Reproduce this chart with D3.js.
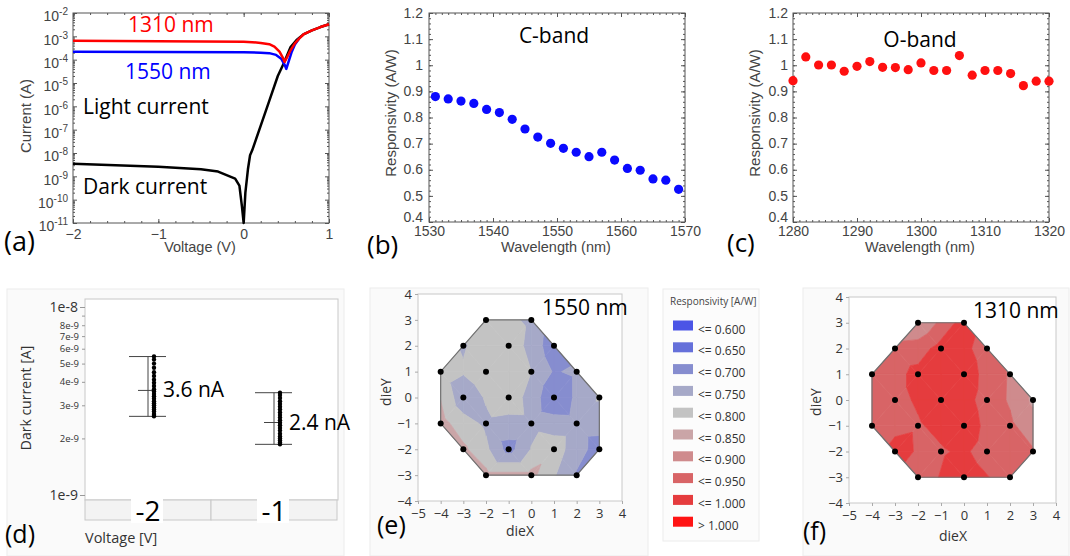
<!DOCTYPE html>
<html>
<head>
<meta charset="utf-8">
<script src="https://cdn.jsdelivr.net/npm/d3@7"></script>
<style>
  body { margin: 0; background: #fff; }
  svg { display: block; }
</style>
</head>
<body>
<div id="chart-area"></div>
<script>
// ---- data ----
// (a) I-V curves
var ivV1310 = [-2, -1, -0.5, 0, 0.1, 0.2, 0.3, 0.36, 0.42, 0.46, 0.48, 0.5, 0.54, 0.6, 0.65, 0.7, 0.8, 0.9, 1.0];
var ivI1310 = [6.4e-4, 6.2e-4, 6.0e-4, 5.8e-4, 5.6e-4, 5.2e-4, 4.6e-4, 3.6e-4, 2.2e-4, 1.2e-4, 8e-5, 1.1e-4, 2.2e-4, 5e-4, 8e-4, 1.2e-3, 1.8e-3, 2.5e-3, 3.3e-3];
var ivV1550 = [-2, -1, 0, 0.2, 0.3, 0.38, 0.44, 0.48, 0.5, 0.52, 0.56, 0.6, 0.65];
var ivI1550 = [2.2e-4, 2.15e-4, 2.1e-4, 2.0e-4, 1.9e-4, 1.6e-4, 1.1e-4, 6e-5, 4e-5, 7e-5, 2e-4, 4.5e-4, 8e-4];
var ivVdark = [-2, -1.5, -1, -0.5, -0.3, -0.1, -0.05, -0.02, 0, 0.02, 0.05, 0.075, 0.1, 0.2, 0.3, 0.4, 0.47, 0.55, 0.62, 0.7, 0.8, 0.9, 1.0];
var ivIdark = [3.5e-9, 3e-9, 2.6e-9, 2e-9, 1.6e-9, 8e-10, 4e-10, 5e-11, 1e-11, 2e-10, 2e-9, 8e-9, 1.3e-8, 1.5e-7, 1.7e-6, 2e-5, 7e-5, 3.5e-4, 7e-4, 1.2e-3, 1.8e-3, 2.5e-3, 3.3e-3];

// (b) C-band responsivity
var cbWave = [1531, 1533, 1535, 1537, 1539, 1541, 1543, 1545, 1547, 1549, 1551, 1553, 1555, 1557, 1559, 1561, 1563, 1565, 1567, 1569];
var cbResp = [0.88, 0.871, 0.863, 0.854, 0.831, 0.819, 0.793, 0.756, 0.725, 0.701, 0.682, 0.667, 0.650, 0.667, 0.637, 0.605, 0.598, 0.565, 0.56, 0.525];

// (c) O-band responsivity
var obWave = [1280, 1282, 1284, 1286, 1288, 1290, 1292, 1294, 1296, 1298, 1300, 1302, 1304, 1306, 1308, 1310, 1312, 1314, 1316, 1318, 1320];
var obResp = [0.941, 1.032, 1.001, 1.001, 0.977, 0.996, 1.014, 0.992, 0.991, 0.983, 1.009, 0.980, 0.980, 1.037, 0.962, 0.980, 0.980, 0.968, 0.922, 0.939, 0.939];

// (d) dark current distribution (nA)
var dcVolt = [-2, -1];
var dcMean = [3.6, 2.43];
var dcHi = [5.45, 3.5];
var dcLo = [2.62, 1.86];
var dcLabel = ["3.6 nA", "2.4 nA"];
var dcPtsM2 = [2.62, 2.66, 2.7, 2.78, 2.85, 2.92, 3.0, 3.08, 3.15, 3.25, 3.35, 3.45, 3.55, 3.65, 3.8, 3.95, 4.1, 4.3, 4.5, 4.75, 5.0, 5.25, 5.45];
var dcPtsM1 = [1.86, 1.9, 1.95, 2.0, 2.05, 2.12, 2.2, 2.27, 2.35, 2.42, 2.5, 2.58, 2.66, 2.75, 2.85, 2.95, 3.05, 3.15, 3.28, 3.4, 3.5];
var dcMajor = [1e-9, 1e-8];
var dcMinor = [2e-9, 3e-9, 4e-9, 5e-9, 6e-9, 7e-9, 8e-9, 9e-9];
var dcMinorLbl = ["2e-9", "3e-9", "4e-9", "5e-9", "6e-9", "7e-9", "8e-9", ""];

// (e)/(f) wafer maps
var dieX = [-2, 0, -3, -1, 1, -4, -2, 0, 2, -3, -1, 1, 3, -4, -2, 0, 2, -3, -1, 1, 3, -2, 0, 2];
var dieY = [3, 3, 2, 2, 2, 1, 1, 1, 1, 0, 0, 0, 0, -1, -1, -1, -1, -2, -2, -2, -2, -3, -3, -3];
var resp1550 = [0.78, 0.74, 0.745, 0.78, 0.665, 0.775, 0.785, 0.75, 0.71, 0.715, 0.78, 0.655, 0.755, 0.82, 0.74, 0.735, 0.72, 0.81, 0.68, 0.78, 0.68, 0.815, 0.815, 0.695];
var resp1310 = [0.85, 0.975, 0.92, 0.97, 0.925, 0.92, 0.965, 0.98, 0.895, 0.935, 0.98, 0.93, 0.84, 0.91, 0.945, 0.98, 0.91, 0.965, 0.945, 0.93, 0.905, 0.93, 0.975, 0.93];
var respBreaks = [0.6, 0.65, 0.7, 0.75, 0.8, 0.85, 0.9, 0.95, 1.0];
var respLabels = ["<= 0.600", "<= 0.650", "<= 0.700", "<= 0.750", "<= 0.800", "<= 0.850", "<= 0.900", "<= 0.950", "<= 1.000", "> 1.000"];
var respColors = ["#4b55e6", "#6570da", "#868dcf", "#a6a9c8", "#c3c3c3", "#caa5a7", "#cf8b8d", "#d86466", "#e53c3e", "#ff1414"];

var axFont = "'Liberation Sans', Arial, sans-serif";
var jmpFont = "'Open Sans', 'Noto Sans', sans-serif";

var svg = d3.select("#chart-area")
  .append("svg")
    .attr("width", 1070)
    .attr("height", 556);

// box with inside ticks on all four sides (panels a, b, c)
function boxAxes(g, x, y, o) {
  var x0 = x.range()[0], x1 = x.range()[1], y0 = y.range()[1], y1 = y.range()[0];
  g.append("g").attr("transform", "translate(0," + y1 + ")")
    .call(d3.axisBottom(x).tickValues(o.xMinor).tickSize(-2).tickFormat(""));
  g.append("g").attr("transform", "translate(0," + y0 + ")")
    .call(d3.axisTop(x).tickValues(o.xMinor).tickSize(-2).tickFormat(""));
  g.append("g").attr("transform", "translate(" + x0 + ",0)")
    .call(d3.axisLeft(y).tickValues(o.yMinor).tickSize(-2).tickFormat(""));
  g.append("g").attr("transform", "translate(" + x1 + ",0)")
    .call(d3.axisRight(y).tickValues(o.yMinor).tickSize(-2).tickFormat(""));
  g.append("g").attr("transform", "translate(0," + y0 + ")")
    .call(d3.axisTop(x).tickValues(o.xMajor).tickSize(-4).tickFormat(""));
  g.append("g").attr("transform", "translate(" + x1 + ",0)")
    .call(d3.axisRight(y).tickValues(o.yMajor).tickSize(-4).tickFormat(""));
  var bx = g.append("g").attr("transform", "translate(0," + y1 + ")")
    .call(d3.axisBottom(x).tickValues(o.xMajor).tickSize(-4).tickPadding(o.xPad).tickFormat(o.xFmt));
  var by = g.append("g").attr("transform", "translate(" + x0 + ",0)")
    .call(d3.axisLeft(y).tickValues(o.yMajor).tickSize(-4).tickPadding(o.yPad).tickFormat(o.yFmt));
  g.selectAll(".domain").remove();
  g.selectAll("g").attr("color", "#555");
  g.selectAll(".tick text").attr("font-family", axFont).attr("font-size", "14px").attr("fill", "#444");
  g.append("rect")
    .attr("x", x0).attr("y", y0)
    .attr("width", x1 - x0).attr("height", y1 - y0)
    .attr("fill", "none").attr("stroke", "#555");
  return { bx: bx, by: by };
}

function addText(g, x, y, txt, size, color, family, anchor) {
  return g.append("text")
    .attr("x", x).attr("y", y)
    .attr("font-family", family || jmpFont)
    .attr("font-size", size + "px")
    .attr("fill", color || "#000")
    .attr("text-anchor", anchor || "start")
    .text(txt);
}

function addRotText(g, x, y, txt, size, color, family) {
  return g.append("text")
    .attr("transform", "translate(" + x + "," + y + ") rotate(-90)")
    .attr("font-family", family)
    .attr("font-size", size + "px")
    .attr("fill", color)
    .attr("text-anchor", "middle")
    .attr("dominant-baseline", "central")
    .text(txt);
}

// ---------------- (a) ----------------
var xA = d3.scaleLinear().domain([-2, 1]).range([73, 329]);
var yA = d3.scaleLog().domain([1e-11, 1e-2]).range([223, 13]);
var gA = svg.append("g");
var decades = d3.range(-11, -1).map(function(e) { return Math.pow(10, e); });
var logMinor = [];
decades.slice(0, -1).forEach(function(d) { for (var k = 2; k < 10; k++) logMinor.push(d * k); });
var axA = boxAxes(gA, xA, yA, {
  xMajor: [-2, -1, 0, 1], xMinor: d3.range(-2, 1.01, 0.2),
  yMajor: decades, yMinor: logMinor,
  xFmt: d3.format("d"), yFmt: function() { return ""; }, xPad: 6, yPad: 5
});
axA.by.selectAll(".tick text").each(function(d) {
  var t = d3.select(this);
  t.text(null);
  t.append("tspan").text("10");
  t.append("tspan").attr("dy", "-0.6em").attr("font-size", "10px").text(Math.round(Math.log10(d)));
});
axA.by.selectAll(".tick text").attr("dy", "0.55em");

var lineA = d3.line().x(function(d) { return xA(d[0]); }).y(function(d) { return yA(d[1]); });
gA.append("path").datum(d3.zip(ivVdark, ivIdark)).attr("d", lineA)
  .attr("fill", "none").attr("stroke", "#000").attr("stroke-width", 2.5).attr("stroke-linejoin", "round");
gA.append("path").datum(d3.zip(ivV1550, ivI1550)).attr("d", lineA)
  .attr("fill", "none").attr("stroke", "#0000ff").attr("stroke-width", 2.5).attr("stroke-linejoin", "round");
gA.append("path").datum(d3.zip(ivV1310, ivI1310)).attr("d", lineA)
  .attr("fill", "none").attr("stroke", "#ff0000").attr("stroke-width", 2.5).attr("stroke-linejoin", "round");

addText(gA, 128, 32, "1310 nm", 21, "#ff0000");
addText(gA, 125, 79, "1550 nm", 21, "#0000ff");
addText(gA, 83, 114, "Light current", 21, "#000");
addText(gA, 83, 194, "Dark current", 21, "#000");
addText(gA, 200, 252, "Voltage (V)", 14.5, "#444", axFont, "middle");
addRotText(gA, 25, 116, "Current (A)", 15, "#444", axFont);
addText(gA, 4, 251, "(a)", 27, "#000");

// ---------------- (b) ----------------
var xB = d3.scaleLinear().domain([1530, 1570]).range([429, 685]);
var yB = d3.scaleLinear().domain([0.4, 1.2]).range([222, 13]);
var respFmt = function(d) { return Math.abs(d - 1) < 1e-9 ? "1" : d3.format(".1f")(d); };
// lowest y label sits a little higher so it clears the first x label
var respDy = function(d) { return d < 0.45 ? "-0.05em" : "0.3em"; };
var gB = svg.append("g");
var axB = boxAxes(gB, xB, yB, {
  xMajor: d3.range(1530, 1571, 10), xMinor: d3.range(1530, 1571, 1),
  yMajor: d3.range(0.4, 1.201, 0.1), yMinor: d3.range(0.4, 1.201, 0.02),
  xFmt: d3.format("d"), yFmt: respFmt, xPad: 4, yPad: 6
});
axB.by.selectAll(".tick text").attr("dy", respDy);
gB.selectAll(".dot").data(d3.zip(cbWave, cbResp)).enter().append("circle")
  .attr("cx", function(d) { return xB(d[0]); })
  .attr("cy", function(d) { return yB(d[1]); })
  .attr("r", 4.6)
  .attr("fill", "#0a0aff");
addText(gB, 554, 43, "C-band", 21, "#000", jmpFont, "middle");
addText(gB, 556, 252, "Wavelength (nm)", 14.5, "#444", axFont, "middle");
addRotText(gB, 390, 113, "Responsivity (A/W)", 15, "#444", axFont);
addText(gB, 367, 254, "(b)", 26, "#000");

// ---------------- (c) ----------------
var xC = d3.scaleLinear().domain([1280, 1320]).range([793, 1049]);
var yC = d3.scaleLinear().domain([0.4, 1.2]).range([222, 13]);
var gC = svg.append("g");
var axC = boxAxes(gC, xC, yC, {
  xMajor: d3.range(1280, 1321, 10), xMinor: d3.range(1280, 1321, 1),
  yMajor: d3.range(0.4, 1.201, 0.1), yMinor: d3.range(0.4, 1.201, 0.02),
  xFmt: d3.format("d"), yFmt: respFmt, xPad: 4, yPad: 5
});
axC.by.selectAll(".tick text").attr("dy", respDy);
gC.selectAll(".dot").data(d3.zip(obWave, obResp)).enter().append("circle")
  .attr("cx", function(d) { return xC(d[0]); })
  .attr("cy", function(d) { return yC(d[1]); })
  .attr("r", 4.6)
  .attr("fill", "#ff1010");
addText(gC, 920, 47, "O-band", 21, "#000", jmpFont, "middle");
addText(gC, 920, 252, "Wavelength (nm)", 14.5, "#444", axFont, "middle");
addRotText(gC, 754, 113, "Responsivity (A/W)", 15, "#444", axFont);
addText(gC, 727, 252, "(c)", 26, "#000");

// ---------------- (d) ----------------
var gD = svg.append("g");
gD.append("rect").attr("x", 7).attr("y", 289).attr("width", 337).attr("height", 267)
  .attr("fill", "#fafafa").attr("stroke", "#ececec");
var xD = d3.scaleBand().domain(dcVolt).range([85, 337]);
var yD = d3.scaleLog().domain([1e-9, 1e-8]).range([495, 307]);
gD.append("rect").attr("x", 85).attr("y", 299).attr("width", 253).attr("height", 201)
  .attr("fill", "#fff").attr("stroke", "#c8c8c8");
// category band under the plot
gD.selectAll(".cell").data(dcVolt).enter().append("rect")
  .attr("x", function(d) { return xD(d); }).attr("y", 500)
  .attr("width", xD.bandwidth()).attr("height", 20)
  .attr("fill", "#f3f3f3").attr("stroke", "#c8c8c8");
gD.selectAll(".cellbg").data(dcVolt).enter().append("rect")
  .attr("x", function(d) { return xD(d) + xD.bandwidth() / 2 - 17; }).attr("y", 499)
  .attr("width", 32).attr("height", 24).attr("fill", "#fff");
gD.selectAll(".cellLbl").data(dcVolt).enter().append("text")
  .attr("x", function(d) { return xD(d) + xD.bandwidth() / 2; })
  .attr("y", 521)
  .attr("text-anchor", "middle")
  .attr("font-family", jmpFont).attr("font-size", "28px").attr("fill", "#000")
  .text(function(d) { return d; });

// y axis
var dAxMaj = gD.append("g").attr("transform", "translate(85,0)")
  .call(d3.axisLeft(yD).tickValues(dcMajor).tickSize(5).tickPadding(2).tickFormat(function(d) { return d === 1e-8 ? "1e-8" : "1e-9"; }));
var dAxMin = gD.append("g").attr("transform", "translate(85,0)")
  .call(d3.axisLeft(yD).tickValues(dcMinor).tickSize(3).tickPadding(3).tickFormat(function(d, i) { return dcMinorLbl[i]; }));
gD.selectAll(".domain").remove();
gD.selectAll("g").attr("color", "#999");
dAxMaj.selectAll(".tick text").attr("font-family", jmpFont).attr("font-size", "14px").attr("fill", "#333");
dAxMin.selectAll(".tick text").attr("font-family", jmpFont).attr("font-size", "9.5px").attr("fill", "#333");

var dcPts = [dcPtsM2, dcPtsM1];
dcVolt.forEach(function(v, i) {
  var cx = xD(v) + xD.bandwidth() / 2;
  var gg = gD.append("g");
  gg.append("line").attr("x1", cx).attr("x2", cx).attr("y1", yD(dcHi[i] * 1e-9)).attr("y2", yD(dcLo[i] * 1e-9))
    .attr("stroke", "#444").attr("stroke-width", 1);
  [dcHi[i], dcLo[i]].forEach(function(c) {
    gg.append("line").attr("x1", cx - 19).attr("x2", cx + 18).attr("y1", yD(c * 1e-9)).attr("y2", yD(c * 1e-9))
      .attr("stroke", "#444").attr("stroke-width", 1);
  });
  gg.append("line").attr("x1", cx - 10).attr("x2", cx + 6).attr("y1", yD(dcMean[i] * 1e-9)).attr("y2", yD(dcMean[i] * 1e-9))
    .attr("stroke", "#444").attr("stroke-width", 1);
  gg.selectAll("circle").data(dcPts[i]).enter().append("circle")
    .attr("cx", cx + 6).attr("cy", function(d) { return yD(d * 1e-9); })
    .attr("r", 2.2).attr("fill", "#000");
  addText(gg, cx + 15, yD(dcMean[i] * 1e-9) + 7, dcLabel[i], 21, "#000");
});
addRotText(gD, 25, 398, "Dark current [A]", 14, "#333", jmpFont);
addText(gD, 85, 543, "Voltage [V]", 14.5, "#333");
addText(gD, 5, 543, "(d)", 25, "#000");

// ---------------- (e), (f) wafer maps ----------------
function clipPoly(poly, f) {
  var out = [];
  for (var i = 0; i < poly.length; i++) {
    var a = poly[i], b = poly[(i + 1) % poly.length];
    var fa = f(a), fb = f(b);
    if (fa >= 0) out.push(a);
    if ((fa >= 0) !== (fb >= 0)) {
      var t = fa / (fa - fb);
      out.push([a[0] + t * (b[0] - a[0]), a[1] + t * (b[1] - a[1]), a[2] + t * (b[2] - a[2])]);
    }
  }
  return out;
}

// triangulate the diamond lattice of dies; full diamonds get a centre at the mean value
function waferTriangles(pts) {
  var map = {};
  pts.forEach(function(p) { map[p[0] + "," + p[1]] = p; });
  var tris = [];
  for (var cx = -5; cx <= 5; cx++) {
    for (var cy = -5; cy <= 5; cy++) {
      if ((cx + cy) % 2 !== 0) continue;
      var v = [map[(cx - 1) + "," + cy], map[cx + "," + (cy + 1)], map[(cx + 1) + "," + cy], map[cx + "," + (cy - 1)]];
      var have = v.filter(Boolean);
      if (have.length === 4) {
        var c = [cx, cy, d3.mean(v, function(p) { return p[2]; })];
        for (var k = 0; k < 4; k++) tris.push([v[k], v[(k + 1) % 4], c]);
      } else if (have.length === 3) {
        tris.push(have);
      }
    }
  }
  return tris;
}

function waferMap(g, x, y, vals, o) {
  var x0 = x.range()[0], x1 = x.range()[1], y0 = y.range()[1], y1 = y.range()[0];
  g.append("rect").attr("x", o.bg[0]).attr("y", o.bg[1]).attr("width", o.bg[2]).attr("height", o.bg[3])
    .attr("fill", "#fafafa").attr("stroke", "#ececec");
  g.append("rect").attr("x", x0).attr("y", y0).attr("width", x1 - x0).attr("height", y1 - y0)
    .attr("fill", "#fff").attr("stroke", "#c8c8c8");

  var pts = dieX.map(function(d, i) { return [dieX[i], dieY[i], vals[i]]; });
  var tris = waferTriangles(pts);
  var bounds = [-Infinity].concat(respBreaks, [Infinity]);
  var cg = g.append("g");
  tris.forEach(function(tri) {
    for (var b = 0; b < respColors.length; b++) {
      var lo = bounds[b], hi = bounds[b + 1];
      var poly = clipPoly(clipPoly(tri, function(p) { return p[2] - lo; }), function(p) { return hi - p[2]; });
      if (poly.length < 3) continue;
      cg.append("path")
        .attr("d", "M" + poly.map(function(p) { return x(p[0]) + "," + y(p[1]); }).join("L") + "Z")
        .attr("fill", respColors[b]).attr("stroke", respColors[b]).attr("stroke-width", 0.7);
    }
  });
  var hull = d3.polygonHull(pts.map(function(p) { return [x(p[0]), y(p[1])]; }));
  g.append("path").attr("d", "M" + hull.join("L") + "Z")
    .attr("fill", "none").attr("stroke", "#707070").attr("stroke-width", 1.2);
  g.selectAll(".die").data(pts).enter().append("circle")
    .attr("cx", function(p) { return x(p[0]); })
    .attr("cy", function(p) { return y(p[1]); })
    .attr("r", 3).attr("fill", "#000");

  var ax = g.append("g").attr("transform", "translate(0," + y1 + ")")
    .call(d3.axisBottom(x).tickValues(d3.range(-5, 5)).tickSize(3).tickPadding(o.xPad));
  var ay = g.append("g").attr("transform", "translate(" + x0 + ",0)")
    .call(d3.axisLeft(y).tickValues(d3.range(-4, 5)).tickSize(3).tickPadding(3));
  g.selectAll(".domain").remove();
  ax.attr("color", "#aaa"); ay.attr("color", "#aaa");
  g.selectAll(".tick text").attr("font-family", jmpFont).attr("font-size", "13px").attr("fill", "#333");

  addText(g, o.title[0], o.title[1], o.titleText, 21, "#000");
  addText(g, o.xlab[0], o.xlab[1], "dieX", 14, "#333", jmpFont, "middle");
  addRotText(g, o.ylab[0], o.ylab[1], "dieY", 14, "#333", jmpFont);
  addText(g, o.tag[0], o.tag[1], o.tagText, 25, "#000");
}

var xE = d3.scaleLinear().domain([-5, 4]).range([418, 622]);
var yE = d3.scaleLinear().domain([-4, 4]).range([501, 294]);
waferMap(svg.append("g"), xE, yE, resp1550, {
  bg: [370, 288, 278, 268], xPad: 5,
  title: [542, 315], titleText: "1550 nm",
  xlab: [520, 536], ylab: [385, 392],
  tag: [377, 534], tagText: "(e)"
});

var xF = d3.scaleLinear().domain([-5, 4]).range([849, 1056]);
var yF = d3.scaleLinear().domain([-4, 4]).range([503, 297]);
waferMap(svg.append("g"), xF, yF, resp1310, {
  bg: [803, 288, 266, 268], xPad: 5,
  title: [973, 318], titleText: "1310 nm",
  xlab: [953, 541], ylab: [815, 402],
  tag: [803, 540], tagText: "(f)"
});

// legend
var gL = svg.append("g");
gL.append("rect").attr("x", 663).attr("y", 289).attr("width", 96).attr("height", 252)
  .attr("fill", "#fcfcfc").attr("stroke", "#ececec");
addText(gL, 670, 305, "Responsivity [A/W]", 10, "#444");
gL.selectAll(".sw").data(respColors).enter().append("rect")
  .attr("x", 673).attr("y", function(d, i) { return 320.5 + i * 21.8; })
  .attr("width", 20).attr("height", 10)
  .attr("fill", function(d) { return d; });
gL.selectAll(".swl").data(respLabels).enter().append("text")
  .attr("x", 698).attr("y", function(d, i) { return 333.5 + i * 21.8; })
  .attr("font-family", jmpFont).attr("font-size", "12px").attr("fill", "#333")
  .text(function(d) { return d; });
</script>
</body>
</html>
